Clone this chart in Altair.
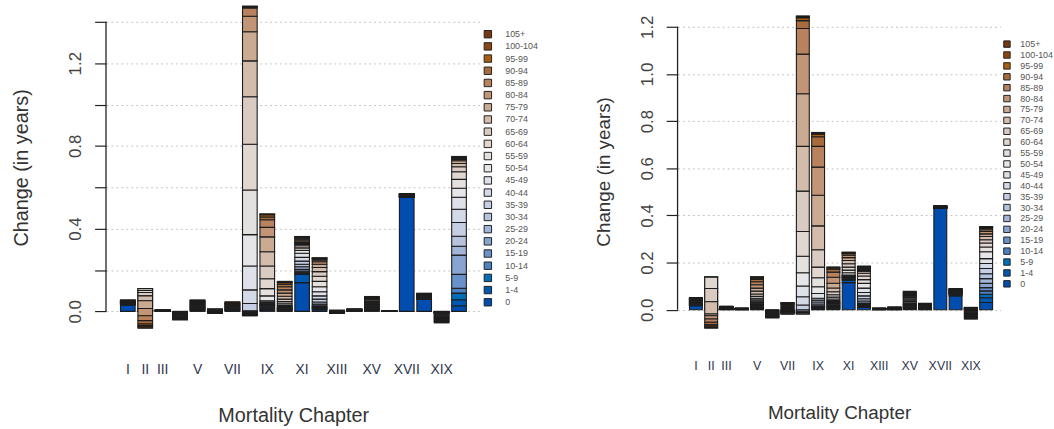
import altair as alt
import pandas as pd

# Mortality chapters (ICD roman numerals) and the age groups stacked in each bar
CHAPTERS = ["I", "II", "III", "IV", "V", "VI", "VII", "VIII", "IX", "X",
            "XI", "XII", "XIII", "XIV", "XV", "XVI", "XVII", "XVIII", "XIX", "XX"]
SHOWN_LABELS = ["I", "II", "III", "V", "VII", "IX", "XI", "XIII", "XV", "XVII", "XIX"]
AGES = ["0", "1-4", "5-9", "10-14", "15-19", "20-24", "25-29", "30-34", "35-39",
        "40-44", "45-49", "50-54", "55-59", "60-64", "65-69", "70-74", "75-79",
        "80-84", "85-89", "90-94", "95-99", "100-104", "105+"]
AGE_COLORS = ["#004DAF", "#0059B1", "#006EB6", "#4B82C3", "#6A92CA", "#88A4D1",
              "#A1B5D9", "#B5C3DE", "#C5CEE2", "#D3D9E6", "#DFE1E8", "#E6E6E8",
              "#E4E0DE", "#E0D7D1", "#DACBC2", "#D3BCAC", "#CBAA92", "#C29577",
              "#B7825D", "#A86B3E", "#A85F12", "#8B4711", "#773712"]

# Contribution (years) of each age group to the change, per chapter, left panel
LEFT_VALUES = {
    "I": [.030, .004, .001, .001, .001, .001, .001, .001, .001, .001, .001, .001,
          .001, .001, .001, .001, .001, .001, .001, .001, .001, .001, .001],
    "II": [.0005, .0005, .0005, .0005, .0005, .0005, .0005, .0005, .008, .016, .032, .050,
           -.009, -.010, -.016, -.024, -.037, -.035, -.024, -.016, -.008, -.007, -.006],
    "III": [.0003] * 23,
    "IV": [-.0018] * 23,
    "V": [.0024] * 23,
    "VI": [.001, .001, .001, .001, .001, .001, .001, .001, .001, .001, .001,
           -.00175, -.00175, -.00175, -.00175, -.00175, -.00175, -.00175, -.00175,
           -.00175, -.00175, -.00175, -.00175],
    "VII": [.002] * 23,
    "VIII": [-.007, -.007, -.007, .00525, .00525, .00525, .00525, .003, .035, .066, .115, .152,
             .216, .221, .230, .173, .141, .075, .040, .004, .003, .001, .0005],
    "IX": [.005, .005, .005, .005, .005, .005, .003, .003, .004, .005, .006, .024,
           .035, .048, .061, .069, .072, .046, .037, .013, .011, .003, .001],
    "X": [.0019, .0019, .0019, .0019, .0019, .0019, .0019, .0019, .0019, .0019, .004, .006,
          .008, .010, .012, .014, .015, .016, .015, .012, .008, .004, .002],
    "XI": [.139, .040, .005, .005, .006, .008, .013, .012, .015, .018, .020, .014,
           .012, .010, .006, .005, .005, .008, .008, .006, .004, .002, .001],
    "XII": [.008, .004, .003, .003, .004, .005, .008, .010, .014, .016, .020, .024,
            .026, .025, .022, .020, .016, .012, .008, .005, .003, .002, .001],
    "XIII": [.00045, .00045, .00045, .00045, .00045, .00045, .00045, .00045, .00045, .00045, .00045,
             -.00125, -.00125, -.00125, -.00125, -.00125, -.00125, -.00125, -.00125,
             -.00125, -.00125, -.00125, -.00125],
    "XIV": [.0005] * 23,
    "XV": [.003, .003, .003, .003, .003, .003, .003, .003, .003, .003, .003, .003,
           .003, .003, .003, .003, .007, .0028, .0028, .0028, .0028, .0028, .0028],
    "XVI": [.00012] * 23,
    "XVII": [.551, .00085, .00085, .00085, .00085, .00085, .00085, .00085, .00085, .00085, .00085,
             .00085, .00085, .00085, .00085, .00085, .00085, .00085, .00085, .00085, .00085,
             .00085, .00085],
    "XVIII": [.059, .0013, .0013, .0013, .0013, .0013, .0013, .0013, .0013, .0013, .0013,
              .0013, .0013, .0013, .0013, .0013, .0013, .0013, .0013, .0013, .0013, .0013, .0013],
    "XIX": [-.0007, -.0007, -.0007, -.0007, -.0007, -.0007, -.0007, -.0007, -.0007, -.0007,
            -.0007, -.0007, -.004, -.005, -.004, -.0043, -.0043, -.0043, -.0043, -.0043,
            -.0043, -.0043, -.0043],
    "XX": [.027, .029, .032, .024, .067, .093, .043, .048, .067, .064, .058, .043,
           .043, .037, .024, .016, .013, .006, .003, .003, .003, .003, .003],
}

# Same decomposition, right panel
RIGHT_VALUES = {
    "I": [.017, .0016, .0016, .0016, .0016, .0016, .0016, .0016, .0016, .0016, .0016, .0016,
          .0016, .0016, .0016, .0016, .0016, .0016, .0016, .0016, .0016, .0016, .0016],
    "II": [.0005, .0005, .0005, .0005, .0005, .0005, .0005, .005, .010, .020, .035, .0665,
           -.002, -.048, -.056, -.052, -.007, -.014, -.014, -.011, -.006, -.005, -.003],
    "III": [.00065] * 23,
    "IV": [.0003] * 23,
    "V": [.0031, .0031, .0031, .0031, .0031, .0031, .0031, .0031, .0031, .0031, .005, .006,
          .007, .008, .010, .012, .013, .014, .013, .010, .006, .004, .001],
    "VI": [-.0015] * 23,
    "VII": [-.0026, -.0026, -.0026, -.0026, -.0026, -.0026, -.0026, .0036, .0036, .0036, .0036,
            .0036, .004, .004, .004, .004, .004, .004, .0014, .0014, .0014, .0014, .0014],
    "VIII": [-.0036, -.0036, -.0036, -.0036, -.0036, .006, .006, .006, .020, .035, .046, .056,
             .070, .105, .171, .190, .223, .168, .109, .033, .012, .004, .004],
    "IX": [.0028, .0028, .0028, .0028, .0028, .0028, .008, .008, .008, .008, .020, .029,
           .038, .045, .074, .101, .130, .119, .088, .041, .011, .004, .003],
    "X": [.0034, .0034, .0034, .0034, .0034, .0034, .0034, .0034, .0034, .004, .005, .006,
          .008, .010, .013, .016, .020, .025, .022, .012, .006, .003, .001],
    "XI": [.115, .010, .003, .003, .003, .003, .002, .002, .002, .002, .002, .010,
           .011, .013, .014, .014, .012, .010, .007, .003, .0015, .001, .0005],
    "XII": [.010, .004, .003, .003, .004, .005, .008, .010, .012, .014, .019, .020,
            .016, .015, .012, .009, .003, .003, .003, .003, .003, .003, .003],
    "XIII": [.0003] * 23,
    "XIV": [.0005] * 23,
    "XV": [.0025, .0025, .0025, .0025, .0025, .0025, .0025, .0025, .0025, .0025, .005, .0053,
           .0053, .0053, .005, .0034, .0034, .0034, .0034, .0034, .0034, .0034, .0034],
    "XVI": [.0012] * 23,
    "XVII": [.430, .0005, .0005, .0005, .0005, .0005, .0005, .0005, .0005, .0005, .0005, .0005,
             .0005, .0005, .0005, .0005, .0005, .0005, .0005, .0005, .0005, .0005, .0005],
    "XVIII": [.059, .003, .004, .0012, .0012, .0012, .0012, .0012, .0012, .0012, .0012, .0012,
              .0012, .0012, .0012, .0012, .0012, .0012, .0012, .0012, .0012, .0012, .0012],
    "XIX": [.0011, .0011, .0011, .0011, .0011, .0011, .0011, .0011, .0011, -.003, -.004, -.005,
            -.0034, -.0034, -.0034, -.0034, -.0034, -.0034, -.0034, -.0034, -.0034, -.0034, -.0034],
    "XX": [.031, .020, .015, .014, .014, .018, .020, .021, .022, .021, .021, .029,
           .020, .017, .014, .014, .011, .010, .007, .006, .004, .002, .002],
}

LEFT_TICKS = [0.0, 0.2, 0.4, 0.6, 0.8, 1.0, 1.2, 1.4]
RIGHT_TICKS = [0.0, 0.2, 0.4, 0.6, 0.8, 1.0, 1.2]

FONT = "Liberation Sans"
TEXT = "#333333"

label_expr_x = ("indexof(" + str(SHOWN_LABELS) + ", datum.value) >= 0 ? datum.value : ''")


def long_table(values):
    rows = []
    for ch in CHAPTERS:
        for k, (age, v) in enumerate(zip(AGES, values[ch])):
            rows.append({"chapter": ch, "age": age, "age_idx": k, "value": v})
    return pd.DataFrame(rows)


def panel(values, ticks, label_expr, width, y_domain, band, legend_pos, legend_sym,
          legend_row, legend_gap, ytitle_pos, xlabel_pad, xlabel_size, xtitle_pos, title_size):
    df = long_table(values)
    # Segments are drawn cumulatively in age order, later groups painted on top
    bars = (
        alt.Chart(df)
        .transform_window(top="sum(value)", groupby=["chapter"],
                          sort=[alt.SortField("age_idx", order="ascending")],
                          frame=[None, 0])
        .transform_calculate(bottom="datum.top - datum.value")
        .mark_bar(stroke="#1c1c1c", strokeWidth=1.1)
        .encode(
            x=alt.X("chapter:N", sort=CHAPTERS,
                    scale=alt.Scale(paddingInner=band[0], paddingOuter=band[1], align=band[2],
                                    round=False),
                    axis=alt.Axis(title="Mortality Chapter", labelExpr=label_expr_x,
                                  domain=False, ticks=False, tickSize=0, grid=False,
                                  labelAngle=0, labelOverlap=False, labelFontSize=xlabel_size,
                                  labelColor="#2f3650", labelBaseline="alphabetic",
                                  labelPadding=xlabel_pad, titleFontSize=title_size,
                                  titleFontWeight="normal", titleColor=TEXT,
                                  titleX=xtitle_pos[0], titleY=xtitle_pos[1],
                                  titleBaseline="alphabetic", titleAlign="center")),
            y=alt.Y("bottom:Q",
                    scale=alt.Scale(domain=y_domain, nice=False, zero=False),
                    axis=alt.Axis(title="Change (in years)", values=ticks, labelExpr=label_expr,
                                  domain=False, tickSize=11.5, tickColor="#222", tickWidth=1.2,
                                  grid=True, gridDash=[2, 3], gridColor="#c4c4c4", gridWidth=1,
                                  labelAngle=270, labelAlign="center", labelBaseline="bottom",
                                  labelPadding=10, labelFontSize=17, labelColor="#444444",
                                  titleFontSize=title_size, titleFontWeight="normal",
                                  titleColor=TEXT, titleAngle=270, titleAlign="center",
                                  titleBaseline="middle",
                                  titleX=ytitle_pos[0], titleY=ytitle_pos[1])),
            y2="top:Q",
            color=alt.Color("age:N",
                            scale=alt.Scale(domain=AGES[::-1], range=AGE_COLORS[::-1]),
                            legend=alt.Legend(orient="none", legendX=legend_pos[0],
                                              legendY=legend_pos[1], title=None,
                                              symbolType="square", symbolSize=legend_sym,
                                              symbolStrokeColor="#222", symbolStrokeWidth=1,
                                              symbolOpacity=1, labelFontSize=9,
                                              labelColor="#555555", labelOffset=legend_gap,
                                              rowPadding=legend_row, padding=0,
                                              symbolLimit=40, labelFont=FONT)),
            order=alt.Order("age_idx:Q"),
        )
    )
    axis_line = (
        alt.Chart(pd.DataFrame({"lo": [ticks[0]], "hi": [ticks[-1]]}))
        .mark_rule(color="#222222", strokeWidth=1.3)
        .encode(x=alt.value(0), y=alt.Y("lo:Q"), y2="hi:Q")
    )
    return alt.layer(bars, axis_line).properties(width=width, height=347)


left = panel(
    LEFT_VALUES, LEFT_TICKS,
    "indexof(['0.0','0.4','0.8','1.2'], format(datum.value, '.1f')) >= 0 ? format(datum.value, '.1f') : ''",
    width=378, y_domain=[-0.1807, 1.4815], band=(0.16, 0.82, 0.507),
    legend_pos=(381, 25), legend_sym=56, legend_row=-0.7, legend_gap=13,
    ytitle_pos=(-85, 164), xlabel_pad=25, xlabel_size=14, xtitle_pos=(189, 73), title_size=20,
)
right = panel(
    RIGHT_VALUES, RIGHT_TICKS, "format(datum.value, '.1f')",
    width=326, y_domain=[-0.1651, 1.2924], band=(0.157, 0.649, 0.6),
    legend_pos=(328, 35), legend_sym=42, legend_row=0, legend_gap=9,
    ytitle_pos=(-75, 168), xlabel_pad=21, xlabel_size=12.5, xtitle_pos=(163, 70), title_size=19,
)

chart = (
    alt.hconcat(left, right, spacing=56)
    .resolve_scale(x="independent", y="independent")
    .resolve_legend(color="independent")
    .properties(padding={"left": 12, "top": 3, "right": 0, "bottom": 0})
    .configure(font=FONT)
    .configure_view(strokeWidth=0)
)

chart.save("out.html", embed_options={"renderer": "svg", "actions": False})
